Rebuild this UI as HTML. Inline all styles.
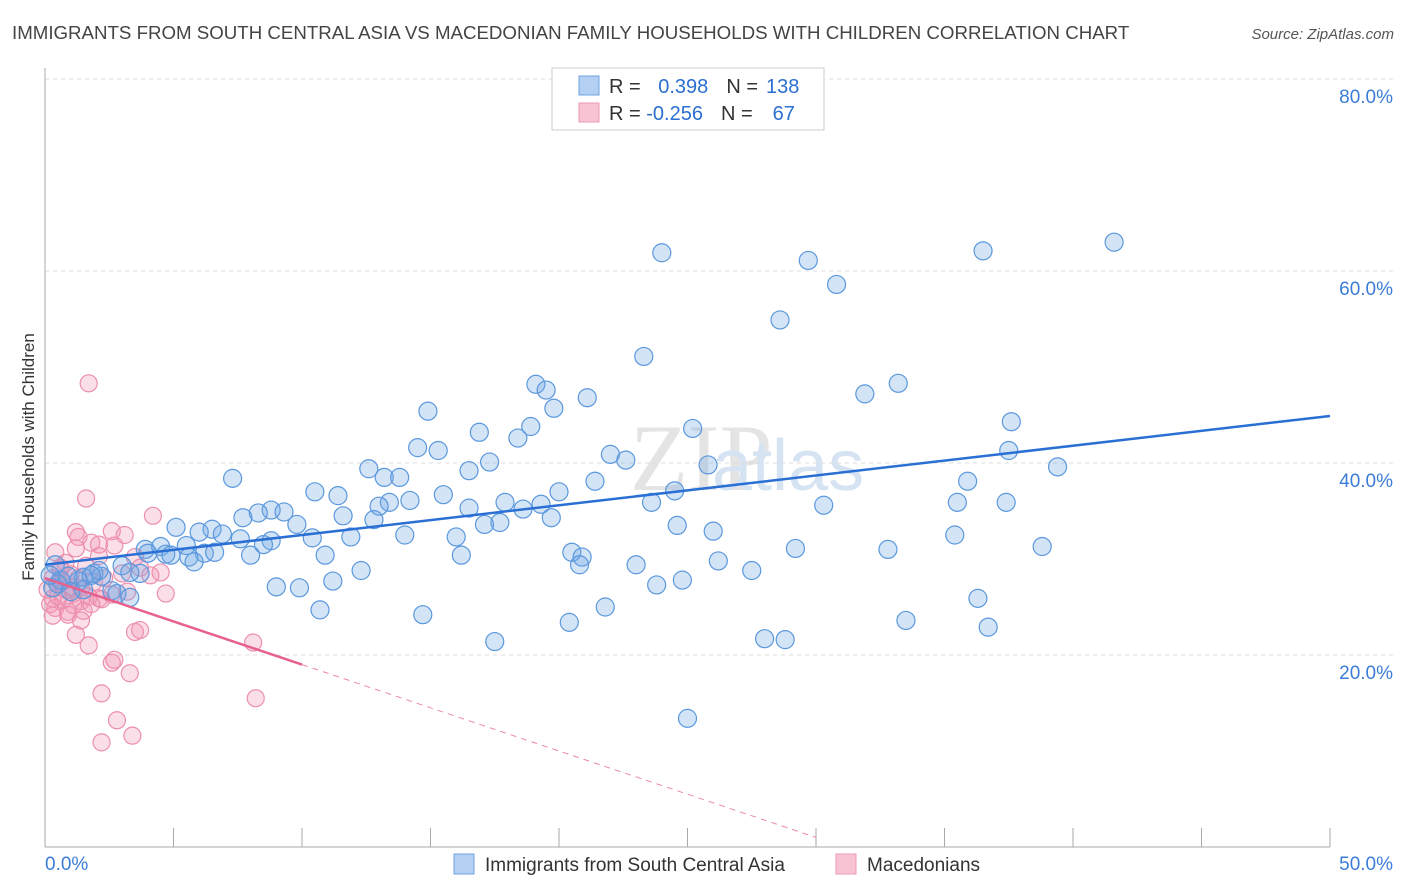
<!DOCTYPE html>
<html><head><meta charset="utf-8">
<style>
body{margin:0;background:#fff;font-family:"Liberation Sans",sans-serif;}
#wrap{position:relative;width:1406px;height:892px;overflow:hidden;}
</style></head>
<body>
<div id="wrap">
<svg id="chart" width="1406" height="892">
<text x="12" y="39" font-size="18.7" fill="#444">IMMIGRANTS FROM SOUTH CENTRAL ASIA VS MACEDONIAN FAMILY HOUSEHOLDS WITH CHILDREN CORRELATION CHART</text>
<text x="1394" y="39" font-size="15" fill="#555" font-style="italic" text-anchor="end">Source: ZipAtlas.com</text>
<text x="630" y="490" font-size="95" fill="#e4e4e4" font-family="Liberation Serif">ZIP</text>
<text x="712" y="490" font-size="72" fill="#d5e3f3">atlas</text>
<text transform="translate(34,457) rotate(-90)" font-size="17" fill="#333" text-anchor="middle">Family Households with Children</text>
<g id="grid"></g>
<g id="axes"></g>
<g id="pts"></g>
<g id="lines"></g>
<g>
<rect x="552" y="68" width="272" height="62" fill="#fff" stroke="#ccc"/>
<rect x="579" y="76" width="20" height="19" fill="#b3cff2" stroke="#6fa3e0"/>
<rect x="579" y="103" width="20" height="19" fill="#f8c3d3" stroke="#eb98b2"/>
<text x="609" y="93" font-size="20" fill="#333">R = <tspan fill="#2b6fd0" dx="12">0.398</tspan><tspan fill="#333" dx="18">N =</tspan><tspan fill="#2b6fd0" dx="8">138</tspan></text>
<text x="609" y="120" font-size="20" fill="#333">R = <tspan fill="#2b6fd0" dx="0">-0.256</tspan><tspan fill="#333" dx="18">N =</tspan><tspan fill="#2b6fd0" dx="20">67</tspan></text>
</g>
<g>
<rect x="454" y="854" width="20" height="20" fill="#b3cff2" stroke="#6fa3e0"/>
<text x="485" y="871" font-size="19" fill="#333">Immigrants from South Central Asia</text>
<rect x="836" y="854" width="20" height="20" fill="#f8c3d3" stroke="#eb98b2"/>
<text x="867" y="871" font-size="19" fill="#333">Macedonians</text>
</g>
</svg>
</div>
<script>
const xTicksLabels=["0.0%","50.0%"];
const yTicks=[20,40,60,80];
const blueX=[24.0,29.7,30.8,36.5,41.6,28.6,23.3,33.2,31.9,19.1,19.5,21.1,19.8,14.9,37.6,16.9,18.9,18.4,25.2,14.5,15.3,22.0,22.6,25.8,37.5,39.4,12.6,16.5,17.3,13.2,13.8,7.3,35.9,21.4,15.5,20.0,24.5,10.5,11.4,13.4,14.2,17.9,16.5,19.3,23.6,30.3,35.5,37.4,8.8,9.3,7.7,8.3,9.8,11.6,13.0,12.8,18.6,17.7,17.1,19.7,5.1,6.5,6.0,6.9,7.6,11.9,14.0,16.0,24.6,26.0,35.4,10.4,8.8,8.5,3.9,4.5,5.5,4.0,4.7,4.9,6.2,6.6,5.6,5.8,8.0,10.9,20.5,20.9,29.2,32.8,38.8,16.2,23.0,26.2,20.8,27.5,12.3,3.0,3.7,3.3,2.2,1.9,1.5,1.3,0.6,0.9,0.5,0.3,1.5,2.6,2.8,3.3,0.4,11.2,9.0,9.9,23.8,24.8,21.8,10.7,14.7,20.4,33.5,36.3,36.7,28.0,28.8,17.5,25.0,2.1,1.8,1.0,0.2];
const blueY=[61.9,61.1,58.6,62.1,63.0,54.9,51.1,48.3,47.2,48.2,47.6,46.8,45.7,45.4,44.3,43.2,43.8,42.6,43.6,41.6,41.3,40.9,40.3,39.8,41.3,39.6,39.4,39.2,40.1,38.5,38.5,38.4,38.1,38.1,36.7,37.0,37.1,37.0,36.6,35.9,36.1,35.9,35.3,35.7,35.9,35.6,35.9,35.9,35.1,34.9,34.3,34.8,33.6,34.5,35.5,34.1,35.2,33.8,33.6,34.3,33.3,33.1,32.8,32.6,32.1,32.3,32.5,32.3,33.5,32.9,32.5,32.2,31.9,31.5,31.0,31.3,31.4,30.6,30.5,30.4,30.6,30.7,30.2,29.7,30.4,30.4,30.7,30.2,31.1,31.0,31.3,30.4,29.4,29.8,29.4,28.8,28.8,29.3,28.5,28.6,28.2,28.5,28.1,27.7,27.8,28.2,27.4,27.0,26.8,26.7,26.4,26.0,29.4,27.7,27.1,27.0,27.3,27.8,25.0,24.7,24.2,23.4,23.6,25.9,22.9,21.7,21.6,21.4,13.4,28.8,28.3,26.6,28.3];
const pinkX=[1.7,1.6,4.2,1.2,1.3,2.6,3.1,1.8,2.1,2.7,1.2,0.4,0.8,3.5,3.7,4.1,4.5,2.1,1.6,3.0,0.6,1.0,0.3,0.5,0.8,1.1,1.4,0.3,0.7,1.1,1.4,1.7,2.1,0.4,0.9,1.5,1.8,2.2,2.6,3.2,4.7,0.3,0.9,1.4,1.2,1.7,3.5,3.7,8.1,2.6,2.7,3.3,2.2,8.2,2.8,2.2,3.4,0.6,0.1,0.2,0.7,0.5,1.3,1.9,2.3,1.0];
const pinkY=[48.3,36.3,34.5,32.8,32.3,32.9,32.5,31.7,31.5,31.4,31.1,30.7,29.6,30.2,29.1,28.3,28.6,30.3,29.3,28.5,29.1,28.4,28.0,27.4,26.8,26.4,27.0,25.9,25.7,25.2,25.6,26.1,25.9,24.9,24.5,24.6,25.3,25.8,26.3,26.6,26.4,24.1,24.2,23.6,22.1,21.0,22.4,22.6,21.3,19.2,19.5,18.1,16.0,15.5,13.2,10.9,11.6,28.9,26.8,25.3,27.6,26.1,28.0,27.6,28.0,27.1];
const blueTrend=[29.4,44.9];
const pinkTrend=[28.0,27.0];
const NS="http://www.w3.org/2000/svg";
const X0=45,X1=1330,Y0=847,YPX=9.6;
function sx(v){return X0+(v/50)*(X1-X0);}
function sy(v){return Y0-v*YPX;}
function mk(tag,attrs,parent){const e=document.createElementNS(NS,tag);for(const k in attrs)e.setAttribute(k,attrs[k]);parent.appendChild(e);return e;}
const grid=document.getElementById('grid'),axes=document.getElementById('axes'),pts=document.getElementById('pts'),lines=document.getElementById('lines');
yTicks.forEach(t=>{
  const l=mk('line',{x1:X0,x2:1394,y1:sy(t),y2:sy(t),stroke:'#ddd','stroke-dasharray':'4,4'},grid);
  
  
  const tx=mk('text',{x:1393,y:sy(t)+24,'font-size':19,fill:'#3b7dd8','text-anchor':'end'},grid);
  tx.textContent=t.toFixed(1)+'%';
  
  
});
const ya=mk('line',{x1:X0,x2:X0,y1:68,y2:Y0,stroke:'#aaa'},axes);


const xa=mk('line',{x1:X0,x2:X1,y1:Y0,y2:Y0,stroke:'#aaa'},axes);


for(let i=0;i<=10;i++){
  const t=mk('line',{x1:sx(i*5),x2:sx(i*5),y1:828,y2:Y0,stroke:'#aaa'},axes);
  
  
}
const xl0=mk('text',{x:45,y:870,'font-size':19,fill:'#3b7dd8'},axes);xl0.textContent=xTicksLabels[0];


const xl1=mk('text',{x:1393,y:870,'font-size':19,fill:'#3b7dd8','text-anchor':'end'},axes);xl1.textContent=xTicksLabels[1];


pinkX.forEach((v,i)=>{
  const c=mk('circle',{cx:sx(v),cy:sy(pinkY[i]),r:8.5,fill:'rgba(242,150,180,0.3)',stroke:'#ec8fae','stroke-width':1.2},pts);
  
  
});
blueX.forEach((v,i)=>{
  const c=mk('circle',{cx:sx(v),cy:sy(blueY[i]),r:9,fill:'rgba(110,165,230,0.3)',stroke:'#5b98dd','stroke-width':1.2},pts);
  
  
});
const bl=mk('line',{x1:sx(0),y1:sy(blueTrend[0]),x2:sx(50),y2:sy(blueTrend[1]),stroke:'#2a6fd4','stroke-width':2.5},lines);


const pslope=-pinkTrend[1]/30;
const pf=x=>pinkTrend[0]+pslope*x;
const pl=mk('line',{x1:sx(0),y1:sy(pf(0)),x2:sx(10),y2:sy(pf(10)),stroke:'#e8608e','stroke-width':2.5},lines);


const pd=mk('line',{x1:sx(10),y1:sy(pf(10)),x2:sx(30),y2:sy(pf(30)),stroke:'#eb8aaa','stroke-width':1,'stroke-dasharray':'6,5'},lines);


</script>
</body></html>
